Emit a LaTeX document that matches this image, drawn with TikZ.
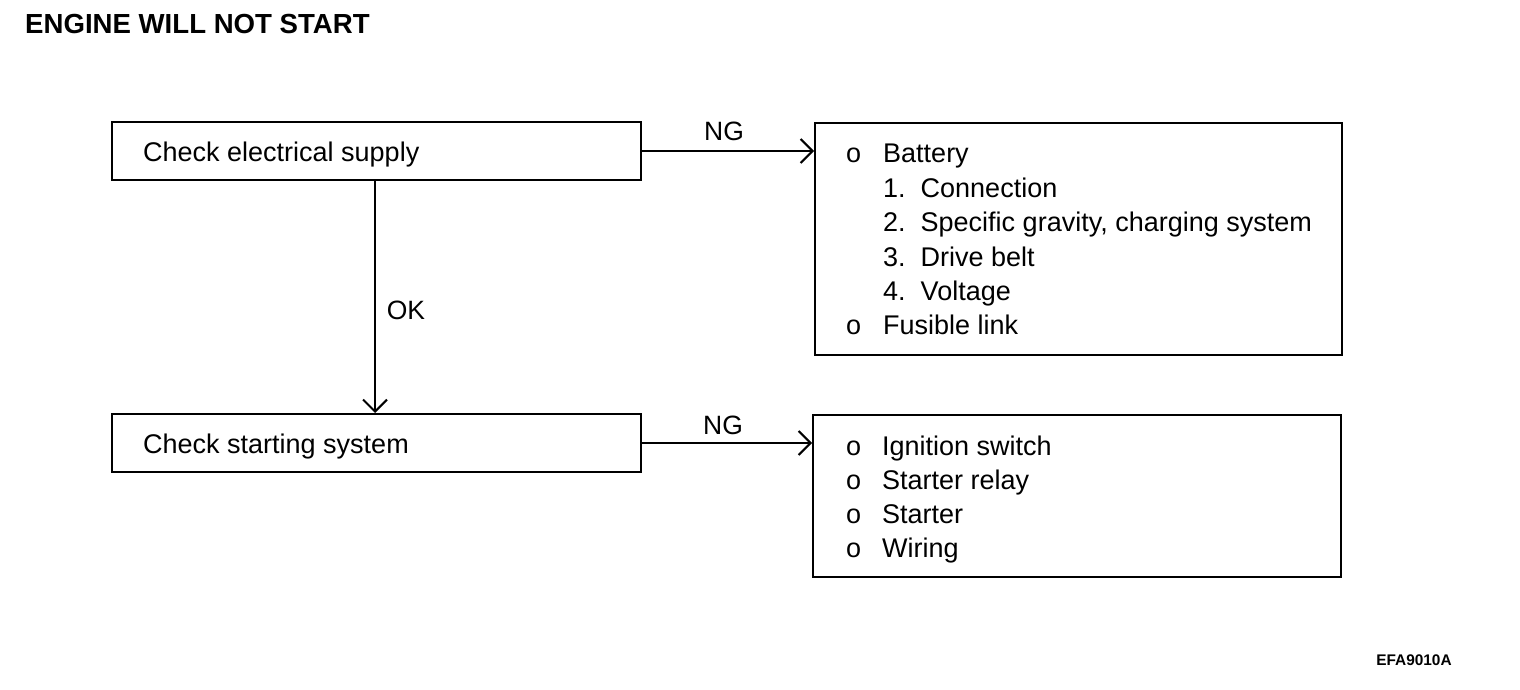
\documentclass[tikz,border=0pt]{standalone}
\usepackage{fontspec}
\setmainfont{Liberation Sans}
\usetikzlibrary{arrows.meta}
\begin{document}
\begin{tikzpicture}[x=1pt,y=-1pt,
  box/.style={draw, line width=2pt, rectangle, inner sep=0pt},
  txt/.style={anchor=base west, inner sep=0pt, font=\fontsize{27}{32}\selectfont},
  lbl/.style={anchor=center, inner sep=0pt, font=\fontsize{26.5}{32}\selectfont},
  arr/.style={line width=2pt, -{Straight Barb[length=12pt,width=24pt,line width=2pt]}}]
\useasboundingbox (0,0) rectangle (1520,690);
% title
\node[anchor=west, inner sep=0pt, font=\fontsize{27.6}{32}\selectfont\bfseries] (title) at (25,24) {ENGINE WILL NOT START};
% boxes
\node[box, minimum width=529pt, minimum height=58pt] (b1) at (376.5,151) {};
\node[box, minimum width=529pt, minimum height=58pt] (b2) at (376.5,443) {};
\node[box, minimum width=527pt, minimum height=232pt] (b3) at (1078.5,239) {};
\node[box, minimum width=528pt, minimum height=162pt] (b4) at (1077,496) {};
% box texts
\node[txt] (t1) at (143,161) {Check electrical supply};
\node[txt] (t2) at (143,453) {Check starting system};
% list 1
\node[txt] (l1o) at (846,162) {o};
\node[txt] (l1) at (883,162) {Battery};
\node[txt] (l2) at (883,197) {1.\ \ Connection};
\node[txt] (l3) at (883,231) {2.\ \ Specific gravity, charging system};
\node[txt] (l4) at (883,266) {3.\ \ Drive belt};
\node[txt] (l5) at (883,300) {4.\ \ Voltage};
\node[txt] (l6o) at (846,334) {o};
\node[txt] (l6) at (883,334) {Fusible link};
% list 2
\node[txt] (m1o) at (846,455) {o};
\node[txt] (m1) at (882,455) {Ignition switch};
\node[txt] (m2o) at (846,489) {o};
\node[txt] (m2) at (882,489) {Starter relay};
\node[txt] (m3o) at (846,523) {o};
\node[txt] (m3) at (882,523) {Starter};
\node[txt] (m4o) at (846,557) {o};
\node[txt] (m4) at (882,557) {Wiring};
% connectors
\draw[arr] (b1.east) -- (b1.east -| b3.west);
\draw[arr] (b2.east) -- (b2.east -| b4.west);
\draw[arr] (b1.south -| 375,0) -- (b2.north -| 375,0);
% labels
\node[lbl] (ng1) at (724,131) {NG};
\node[lbl] (ng2) at (723,425) {NG};
\node[lbl] (ok) at (406,310) {OK};
\node[anchor=center, inner sep=0pt, font=\fontsize{15.4}{18}\selectfont\bfseries] (code) at (1414,660) {EFA9010A};
\end{tikzpicture}
\end{document}
